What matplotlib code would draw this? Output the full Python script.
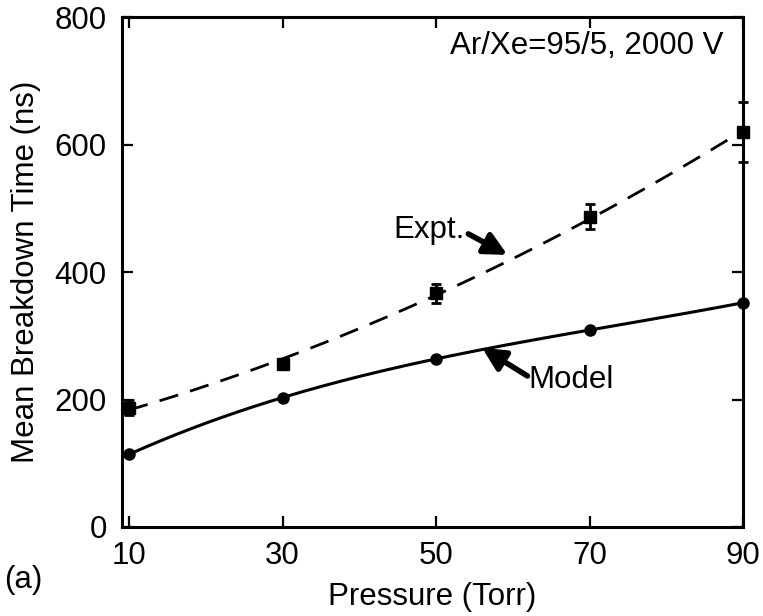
import matplotlib.pyplot as plt
import numpy as np

# данные
pressure = [10, 30, 50, 70, 90]
model_t = [114, 203, 264, 309, 352]
expt_t = [187, 256, 367, 487, 620]
expt_err = [12, 6, 15, 20, 47]

plt.rcParams['font.family'] = ['Liberation Sans', 'DejaVu Sans']
plt.rcParams['font.size'] = 22.5

fig = plt.figure(figsize=(7.63, 6.16), dpi=100)
ax = fig.add_axes([0.160, 0.1445, 0.814, 0.8275])

# гладкие кривые через точки
xs = np.linspace(10, 90, 200)
model_curve = np.polyval(np.polyfit(pressure, model_t, 3), xs)
expt_curve = np.polyval(np.polyfit(pressure, expt_t, 2), xs)

ax.plot(xs, model_curve, color='black', lw=2.2)
ax.plot(xs, expt_curve, color='black', lw=2.0, dashes=(7, 4.5))
ax.plot(pressure, model_t, 'o', color='black', ms=8, clip_on=False)
ax.errorbar(pressure, expt_t, yerr=expt_err, fmt='s', color='black', ms=8,
            elinewidth=2, capsize=3.5, capthick=2, clip_on=False)

# стрелки и подписи
arrow = dict(arrowstyle='-|>', lw=4, color='black',
             mutation_scale=34, shrinkA=0, shrinkB=0)
ax.annotate('', xy=(59.3, 427), xytext=(54.2, 460), arrowprops=arrow)
ax.text(53.8, 466, 'Expt.', ha='right', va='center')
ax.annotate('', xy=(56.0, 281), xytext=(61.9, 237), arrowprops=arrow)
ax.text(62.0, 231, 'Model', ha='left', va='center')
ax.text(87.4, 755, 'Ar/Xe=95/5, 2000 V', ha='right', va='center')

ax.set_xlim(9.1, 90)
ax.set_ylim(0, 800)
ax.set_xticks(pressure)
ax.set_yticks([0, 200, 400, 600, 800])
ax.tick_params(direction='in', length=8, width=1.6, top=True, right=True)
ax.tick_params(axis='y', pad=11)
ax.tick_params(axis='x', pad=10)
for s in ax.spines.values():
    s.set_linewidth(2.2)

ax.set_xlabel('Pressure (Torr)', labelpad=8)
ax.set_ylabel('Mean Breakdown Time (ns)', labelpad=10)
fig.text(0.005, 0.058, '(a)', ha='left', va='center')

fig.savefig('out.png', dpi=100)
